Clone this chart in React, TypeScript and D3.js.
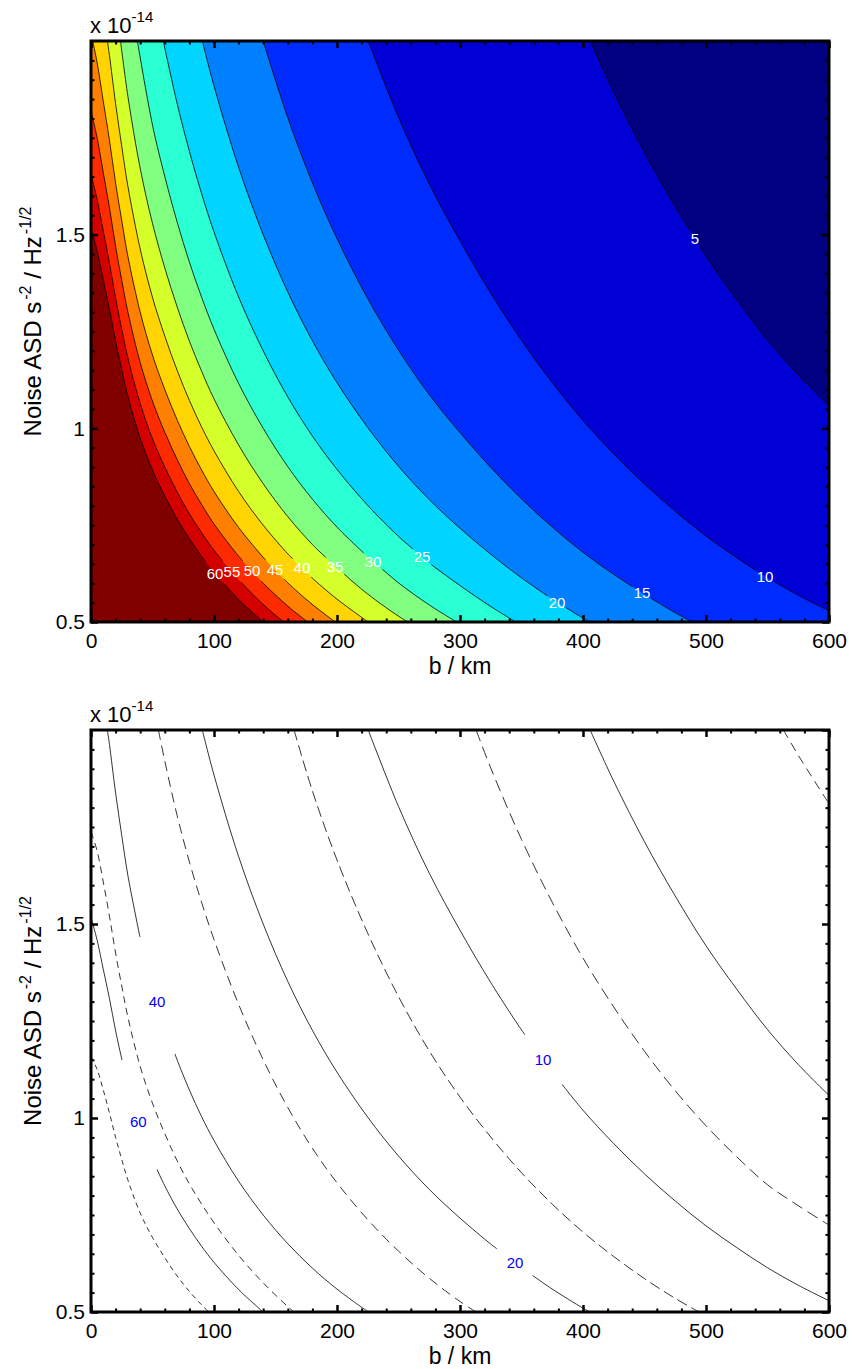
import React, { useEffect, useRef } from 'react';
import * as d3 from 'd3';

type Pt = [number, number];

// contour levels of the filled plot
const levels = [5, 10, 15, 20, 25, 30, 35, 40, 45, 50, 55, 60];

// contour lines: [b / km, noise ASD / 1e-14]
const c5: Pt[] = [[405.8, 2], [425, 1.868], [450, 1.712], [475, 1.572], [500, 1.444], [525, 1.332], [550, 1.228], [575, 1.138], [600, 1.058]];
const c10: Pt[] = [[225.4, 2], [250, 1.803], [275, 1.631], [300, 1.484], [325, 1.349], [350, 1.227], [375, 1.118], [400, 1.02], [425, 0.934], [450, 0.856], [475, 0.786], [500, 0.722], [525, 0.666], [550, 0.614], [575, 0.569], [600, 0.529]];
const c15: Pt[] = [[140, 2], [160, 1.802], [180, 1.634], [200, 1.49], [225, 1.335], [250, 1.202], [275, 1.087], [300, 0.989], [325, 0.899], [350, 0.818], [375, 0.745], [400, 0.68], [425, 0.623], [450, 0.571], [475, 0.524], [489.1, 0.5]];
const c20: Pt[] = [[90.5, 2], [100, 1.884], [120, 1.674], [140, 1.5], [160, 1.352], [180, 1.226], [200, 1.118], [225, 1.002], [250, 0.902], [275, 0.816], [300, 0.742], [325, 0.675], [350, 0.614], [375, 0.559], [400, 0.51], [405.8, 0.5]];
const c25: Pt[] = [[58.75, 2], [70, 1.839], [80, 1.715], [90, 1.605], [100, 1.507], [120, 1.339], [140, 1.2], [160, 1.081], [180, 0.98], [200, 0.894], [225, 0.801], [250, 0.721], [275, 0.652], [300, 0.594], [325, 0.54], [345.3, 0.5]];
const c30: Pt[] = [[37.7, 2], [50, 1.783], [60, 1.65], [70, 1.533], [80, 1.429], [90, 1.338], [100, 1.256], [120, 1.116], [140, 1.0], [160, 0.901], [180, 0.817], [200, 0.745], [225, 0.668], [250, 0.601], [275, 0.544], [297.3, 0.5]];
const c35: Pt[] = [[24, 2], [30, 1.857], [40, 1.671], [50, 1.529], [60, 1.414], [70, 1.314], [80, 1.225], [90, 1.147], [100, 1.076], [120, 0.957], [140, 0.857], [160, 0.772], [180, 0.7], [200, 0.639], [225, 0.572], [250, 0.515], [257.7, 0.5]];
const c40: Pt[] = [[13.3, 2], [15, 1.963], [20, 1.838], [25, 1.728], [30, 1.625], [40, 1.463], [50, 1.338], [60, 1.238], [70, 1.15], [80, 1.072], [90, 1.003], [100, 0.942], [120, 0.837], [140, 0.75], [160, 0.676], [180, 0.613], [200, 0.559], [225.4, 0.5]];
const c45: Pt[] = [[1.4, 2], [5, 1.944], [10, 1.844], [15, 1.744], [20, 1.633], [25, 1.536], [30, 1.444], [40, 1.3], [50, 1.189], [60, 1.1], [70, 1.022], [80, 0.953], [90, 0.892], [100, 0.837], [120, 0.744], [140, 0.667], [160, 0.601], [180, 0.545], [198.6, 0.5]];
const c50: Pt[] = [[0, 1.82], [5, 1.75], [10, 1.66], [15, 1.57], [20, 1.47], [25, 1.382], [30, 1.3], [40, 1.17], [50, 1.07], [60, 0.99], [70, 0.92], [80, 0.857], [90, 0.803], [100, 0.753], [120, 0.67], [140, 0.6], [160, 0.541], [176.1, 0.5]];
const c55: Pt[] = [[0, 1.655], [5, 1.591], [10, 1.509], [15, 1.427], [20, 1.336], [25, 1.256], [30, 1.182], [40, 1.064], [50, 0.973], [60, 0.9], [70, 0.836], [80, 0.779], [90, 0.73], [100, 0.685], [120, 0.609], [140, 0.545], [156.8, 0.5]];
const c60: Pt[] = [[0, 1.517], [5, 1.458], [10, 1.383], [15, 1.308], [20, 1.225], [25, 1.152], [30, 1.083], [40, 0.975], [50, 0.892], [60, 0.825], [70, 0.766], [80, 0.715], [90, 0.669], [100, 0.628], [120, 0.558], [140, 0.5]];
const filledLines = [c5, c10, c15, c20, c25, c30, c35, c40, c45, c50, c55, c60];

// where the white labels sit on each line (b / km), same order as levels
const topLabelB = [491, 548, 448, 378.9, 269.1, 229.3, 198.4, 171.5, 149.6, 130.9, 114.6, 100.8];

// lower panel: solid lines are the same levels, dashed lines a second case
const lowerLevels = [60, 40, 20, 10, 5];
const lowerSolid = [c60, c40, c20, c10, c5];
const lowerLabelB = [38.5, 53.7, 344.7, 367.5];
const lowerGaps: Pt[] = [[25.2, 53.7], [39.8, 68.3], [330, 359], [352.8, 383]];

const d60: Pt[] = [[0, 1.158], [5, 1.125], [10, 1.072], [15, 1.013], [20, 0.95], [25, 0.893], [30, 0.84], [40, 0.755], [50, 0.692], [60, 0.64], [70, 0.593], [80, 0.553], [90, 0.518], [95.8, 0.5]];
const d40: Pt[] = [[0, 1.738], [5, 1.688], [10, 1.608], [15, 1.52], [20, 1.425], [25, 1.34], [30, 1.26], [40, 1.133], [50, 1.038], [60, 0.96], [70, 0.89], [80, 0.83], [90, 0.778], [100, 0.73], [120, 0.646], [140, 0.575], [160, 0.514], [165.1, 0.5]];
const d20: Pt[] = [[54.8, 2], [60, 1.92], [70, 1.78], [80, 1.66], [90, 1.555], [100, 1.46], [120, 1.293], [140, 1.15], [160, 1.027], [180, 0.922], [200, 0.833], [225, 0.738], [250, 0.657], [275, 0.587], [300, 0.527], [313.1, 0.5]];
const d10: Pt[] = [[165.1, 2], [180, 1.843], [200, 1.665], [225, 1.476], [250, 1.313], [275, 1.173], [300, 1.054], [325, 0.951], [350, 0.859], [375, 0.778], [400, 0.706], [425, 0.643], [450, 0.586], [475, 0.535], [494.4, 0.5]];
const d5: Pt[] = [[313.1, 2], [325, 1.902], [350, 1.718], [375, 1.556], [400, 1.412], [425, 1.286], [450, 1.172], [475, 1.07], [500, 0.98], [525, 0.9], [550, 0.828], [575, 0.774], [600, 0.724]];
const d2: Pt[] = [[563, 2], [575, 1.935], [600, 1.81]];
const dashedLines = [d60, d40, d20, d10, d5, d2];

const xTickValues = [0, 100, 200, 300, 400, 500, 600];
const yTickValues = [0.5, 1, 1.5];

// styles
const jet = ['#000080', '#0000d4', '#002bff', '#0080ff', '#00d4ff', '#2bffd4', '#80ff80', '#d4ff2b', '#ffd400', '#ff8000', '#ff2b00', '#d40000', '#800000'];
const dashPatterns = ['5,4', '7,5', '10,6', '11,5', '12,6', '9,6'];
const FONT = '"Liberation Sans", Arial, Helvetica, sans-serif';

const nAt = (pts: Pt[], b: number) => {
  for (let i = 0; i < pts.length - 1; i++) {
    const [b0, n0] = pts[i], [b1, n1] = pts[i + 1];
    if (b >= b0 && b <= b1) return n0 + (n1 - n0) * (b - b0) / (b1 - b0);
  }
  return pts[pts.length - 1][1];
};

const withGap = (pts: Pt[], g0: number, g1: number): Pt[][] => {
  const a: Pt[] = pts.filter(p => p[0] < g0);
  a.push([g0, nAt(pts, g0)]);
  const b: Pt[] = [[g1, nAt(pts, g1)], ...pts.filter(p => p[0] > g1)];
  return [a, b];
};

const App = () => {
  const svgRef = useRef<SVGSVGElement>(null);

  useEffect(() => {
    const svg = d3.select(svgRef.current);
    svg.selectAll('*').remove();

    const left = 91, right = 829;
    const x = d3.scaleLinear().domain([0, 600]).range([left, right]);

    const drawAxes = (y: d3.ScaleLinear<number, number>, top: number, bottom: number) => {
      const xMinor = d3.range(0, 601, 20).filter(v => v % 100 !== 0);
      const yMinor = d3.range(10, 41).map(v => v / 20).filter(v => Math.abs(v * 2 - Math.round(v * 2)) > 1e-6);
      const yMajor = [0.5, 1, 1.5, 2];

      const style = (g: d3.Selection<SVGGElement, unknown, null, undefined>, w: number) => {
        g.select('.domain').remove();
        g.attr('font-size', 21).attr('font-family', FONT);
        g.selectAll('line').attr('stroke', '#000').attr('stroke-width', w);
        g.selectAll('text').attr('fill', '#000');
      };

      // bottom
      svg.append('g').attr('transform', `translate(0,${bottom})`)
        .call(d3.axisBottom(x).tickValues(xTickValues).tickSize(-7).tickPadding(11).tickFormat(d => String(d)))
        .call(g => style(g, 2.5));
      svg.append('g').attr('transform', `translate(0,${bottom})`)
        .call(d3.axisBottom(x).tickValues(xMinor).tickSize(-3.5).tickFormat(() => ''))
        .call(g => style(g, 2));
      // top
      svg.append('g').attr('transform', `translate(0,${top})`)
        .call(d3.axisTop(x).tickValues(xTickValues).tickSize(-7).tickFormat(() => ''))
        .call(g => style(g, 2.5));
      svg.append('g').attr('transform', `translate(0,${top})`)
        .call(d3.axisTop(x).tickValues(xMinor).tickSize(-3.5).tickFormat(() => ''))
        .call(g => style(g, 2));
      // left
      svg.append('g').attr('transform', `translate(${left},0)`)
        .call(d3.axisLeft(y).tickValues(yTickValues).tickSize(-7).tickPadding(6).tickFormat(d => String(d)))
        .call(g => style(g, 2.5));
      svg.append('g').attr('transform', `translate(${left},0)`)
        .call(d3.axisLeft(y).tickValues(yMinor).tickSize(-3.5).tickFormat(() => ''))
        .call(g => style(g, 2));
      // right
      svg.append('g').attr('transform', `translate(${right},0)`)
        .call(d3.axisRight(y).tickValues(yMajor).tickSize(-7).tickFormat(() => ''))
        .call(g => style(g, 2.5));
      svg.append('g').attr('transform', `translate(${right},0)`)
        .call(d3.axisRight(y).tickValues(yMinor).tickSize(-3.5).tickFormat(() => ''))
        .call(g => style(g, 2));

      svg.append('rect')
        .attr('x', left).attr('y', top)
        .attr('width', right - left).attr('height', bottom - top)
        .attr('fill', 'none').attr('stroke', '#000').attr('stroke-width', 3);

      // x 10^-14
      const ex = svg.append('text').attr('x', left - 1).attr('y', top - 8)
        .attr('font-family', FONT).attr('font-size', 22).attr('fill', '#000');
      ex.append('tspan').text('x 10');
      ex.append('tspan').attr('font-size', 15).attr('dy', -11).text('-14');

      // axis titles
      svg.append('text').attr('x', x(300)).attr('y', bottom + 51.5)
        .attr('text-anchor', 'middle').attr('font-family', FONT).attr('font-size', 23)
        .text('b / km');

      const yl = svg.append('text')
        .attr('transform', `translate(41,${(top + bottom) / 2 - 10}) rotate(-90)`)
        .attr('text-anchor', 'middle').attr('font-family', FONT).attr('font-size', 24);
      yl.append('tspan').text('Noise ASD s');
      yl.append('tspan').attr('font-size', 16).attr('dy', -10).attr('dx', 2).text('-2');
      yl.append('tspan').attr('dy', 10).text(' / Hz');
      yl.append('tspan').attr('font-size', 16).attr('dy', -10).attr('dx', 2).text('-1/2');
    };

    // ---------- upper panel: filled contours ----------
    {
      const top = 41, bottom = 622;
      const y = d3.scaleLinear().domain([0.5, 2]).range([bottom, top]);
      const line = d3.line<Pt>().x(d => x(d[0])).y(d => y(d[1])).curve(d3.curveCatmullRom.alpha(0.5));

      svg.append('clipPath').attr('id', 'clipTop')
        .append('rect').attr('x', left).attr('y', top).attr('width', right - left).attr('height', bottom - top);
      const g = svg.append('g').attr('clip-path', 'url(#clipTop)');

      g.append('rect').attr('x', left).attr('y', top)
        .attr('width', right - left).attr('height', bottom - top).attr('fill', jet[0]);

      filledLines.forEach((pts, i) => {
        const first = pts[0], last = pts[pts.length - 1];
        const corners: Pt[] = [];
        if (last[0] >= 600) corners.push([600, 0.5]);
        corners.push([0, 0.5]);
        if (first[1] >= 2) corners.push([0, 2]);
        let d = line(pts) as string;
        corners.forEach(c => { d += `L${x(c[0])},${y(c[1])}`; });
        g.append('path').attr('d', d + 'Z').attr('fill', jet[i + 1]);
      });

      filledLines.forEach((pts, i) => {
        const half = levels[i] < 10 ? 4.5 : 7.5;
        withGap(pts, topLabelB[i] - half, topLabelB[i] + half).forEach(seg => {
          g.append('path').attr('d', line(seg)).attr('fill', 'none')
            .attr('stroke', '#000').attr('stroke-width', 0.8);
        });
      });

      levels.forEach((lv, i) => {
        g.append('text')
          .attr('x', x(topLabelB[i])).attr('y', y(nAt(filledLines[i], topLabelB[i])))
          .attr('text-anchor', 'middle').attr('dominant-baseline', 'central')
          .attr('font-family', FONT).attr('font-size', 15).attr('fill', '#fff')
          .text(lv);
      });

      drawAxes(y, top, bottom);
    }

    // ---------- lower panel: line contours ----------
    {
      const top = 730, bottom = 1312;
      const y = d3.scaleLinear().domain([0.5, 2]).range([bottom, top]);
      const line = d3.line<Pt>().x(d => x(d[0])).y(d => y(d[1])).curve(d3.curveCatmullRom.alpha(0.5));

      svg.append('clipPath').attr('id', 'clipBot')
        .append('rect').attr('x', left).attr('y', top).attr('width', right - left).attr('height', bottom - top);
      const g = svg.append('g').attr('clip-path', 'url(#clipBot)');

      lowerSolid.forEach((pts, i) => {
        const segs = lowerGaps[i] ? withGap(pts, lowerGaps[i][0], lowerGaps[i][1]) : [pts];
        segs.forEach(seg => {
          g.append('path').attr('d', line(seg)).attr('fill', 'none')
            .attr('stroke', '#000').attr('stroke-width', 0.8);
        });
      });

      dashedLines.forEach((pts, i) => {
        g.append('path').attr('d', line(pts)).attr('fill', 'none')
          .attr('stroke', '#000').attr('stroke-width', 0.8)
          .attr('stroke-dasharray', dashPatterns[i]);
      });

      lowerLabelB.forEach((b, i) => {
        g.append('text')
          .attr('x', x(b)).attr('y', y(nAt(lowerSolid[i], b)))
          .attr('text-anchor', 'middle').attr('dominant-baseline', 'central')
          .attr('font-family', FONT).attr('font-size', 15).attr('fill', '#0000ff')
          .text(lowerLevels[i]);
      });

      drawAxes(y, top, bottom);
    }
  }, []);

  return (
    <div style={{ position: 'absolute', left: 0, top: 0, background: '#fff' }}>
      <svg ref={svgRef} width={853} height={1369} />
    </div>
  );
};

export default App;
